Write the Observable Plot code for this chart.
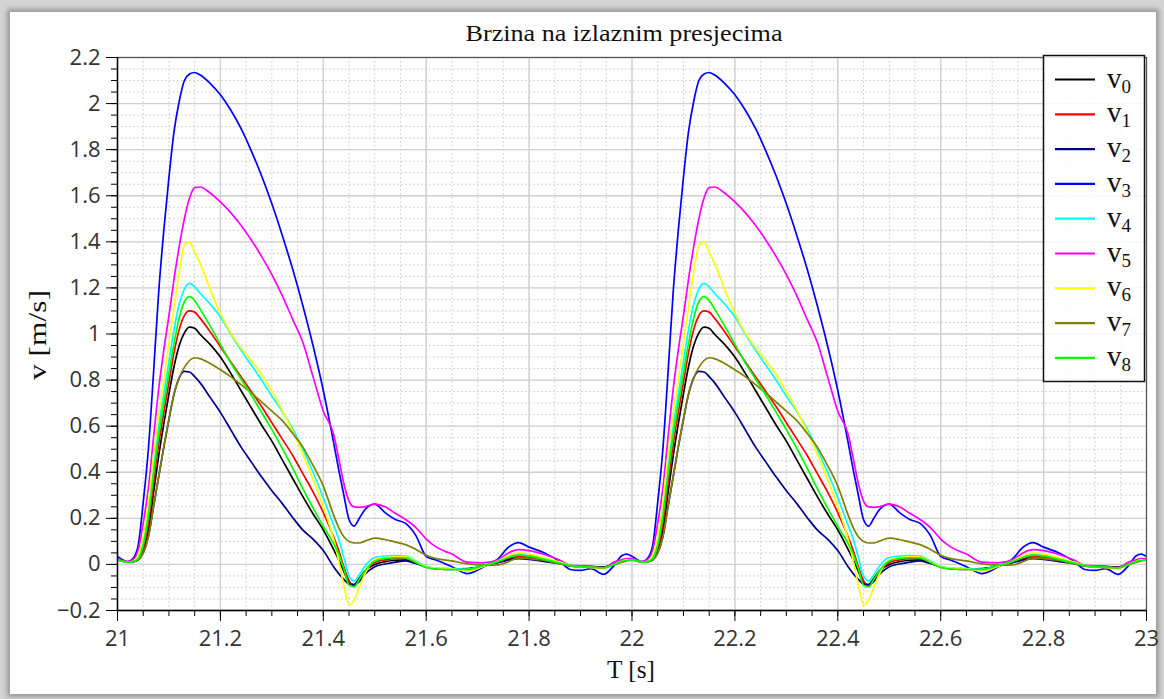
<!DOCTYPE html>
<html>
<head>
<meta charset="utf-8">
<script src="https://cdn.jsdelivr.net/npm/d3@7"></script>
<script src="https://cdn.jsdelivr.net/npm/@observablehq/plot@0.6"></script>
<style>
  html, body { margin: 0; padding: 0; width: 1164px; height: 699px; overflow: hidden; background: #d4d4d4; }
  #panel { position: absolute; left: 10px; top: 12px; width: 1146px; height: 682px; background: #fff;
           box-shadow: 0 0 5px 3px rgba(0,0,0,0.28); }
  #chart { position: absolute; left: 0; top: 0; }
  #overlay { position: absolute; left: 0; top: 0; }
</style>
</head>
<body>
<div id="panel"></div>
<div id="chart"></div>
<svg id="overlay" width="1164" height="699"></svg>
<script>
// ---- data (one pulse period; the signal repeats every 1 s) ----
const cycleStarts = [21, 22, 23];
const phase = [0, 0.02, 0.03, 0.04, 0.05, 0.06, 0.07, 0.08, 0.09, 0.10,
               0.11, 0.12, 0.13, 0.14, 0.15, 0.16, 0.18, 0.20, 0.22, 0.24,
               0.26, 0.28, 0.30, 0.32, 0.34, 0.36, 0.38, 0.40, 0.42, 0.43,
               0.44, 0.45, 0.46, 0.47, 0.48, 0.50, 0.52, 0.54, 0.56, 0.58,
               0.60, 0.62, 0.65, 0.68, 0.71, 0.74, 0.76, 0.78, 0.80, 0.83,
               0.86, 0.88, 0.90, 0.92, 0.945, 0.965, 0.98, 0.99];

const v0 = [0.02, 0.01, 0.012, 0.02, 0.06, 0.15, 0.31, 0.47, 0.61, 0.74,
            0.86, 0.95, 1.005, 1.03, 1.025, 1.0, 0.955, 0.9, 0.83, 0.755,
            0.68, 0.605, 0.535, 0.455, 0.375, 0.295, 0.22, 0.15, 0.065, 0.02,
            -0.03, -0.08, -0.088, -0.06, -0.03, 0.0, 0.012, 0.018, 0.02, 0.005,
            -0.01, -0.018, -0.022, -0.02, -0.008, 0.01, 0.022, 0.03, 0.025, 0.015,
            0.005, -0.005, -0.01, -0.01, -0.012, 0.0, 0.012, 0.018];
const v1 = [0.02, 0.01, 0.012, 0.02, 0.07, 0.18, 0.35, 0.52, 0.66, 0.79,
            0.92, 1.02, 1.08, 1.10, 1.095, 1.07, 1.01, 0.945, 0.88, 0.815,
            0.75, 0.685, 0.615, 0.545, 0.475, 0.395, 0.315, 0.225, 0.12, 0.06,
            -0.01, -0.07, -0.092, -0.07, -0.035, 0.008, 0.02, 0.025, 0.025, 0.006,
            -0.012, -0.019, -0.021, -0.02, -0.006, 0.012, 0.027, 0.036, 0.032, 0.02,
            0.005, -0.005, -0.01, -0.011, -0.013, 0.0, 0.012, 0.018];
const v2 = [0.02, 0.01, 0.012, 0.02, 0.05, 0.12, 0.25, 0.38, 0.51, 0.63,
            0.74, 0.81, 0.838, 0.835, 0.815, 0.79, 0.725, 0.66, 0.585, 0.51,
            0.445, 0.38, 0.32, 0.265, 0.205, 0.15, 0.11, 0.06, -0.01, -0.04,
            -0.065, -0.085, -0.088, -0.075, -0.045, -0.01, 0.002, 0.01, 0.015, 0.004,
            -0.01, -0.018, -0.02, -0.018, -0.008, 0.008, 0.018, 0.025, 0.022, 0.012,
            0.003, -0.006, -0.01, -0.01, -0.012, 0.0, 0.012, 0.018];
const v3 = [0.035, 0.012, 0.025, 0.08, 0.27, 0.50, 0.83, 1.18, 1.45, 1.68,
            1.88, 2.01, 2.10, 2.128, 2.135, 2.125, 2.088, 2.038, 1.972, 1.892,
            1.795, 1.687, 1.565, 1.43, 1.285, 1.125, 0.95, 0.755, 0.53, 0.41,
            0.30, 0.195, 0.166, 0.20, 0.235, 0.262, 0.225, 0.195, 0.178, 0.125,
            0.035, 0.018, -0.01, -0.04, -0.012, 0.025, 0.075, 0.095, 0.075, 0.05,
            0.012, -0.022, -0.026, -0.018, -0.043, -0.005, 0.038, 0.045];
const v4 = [0.02, 0.01, 0.012, 0.03, 0.10, 0.24, 0.43, 0.60, 0.74, 0.88,
            1.02, 1.13, 1.195, 1.22, 1.205, 1.178, 1.13, 1.075, 1.0, 0.93,
            0.865, 0.80, 0.73, 0.665, 0.59, 0.50, 0.40, 0.29, 0.17, 0.11,
            0.03, -0.05, -0.072, -0.045, -0.01, 0.03, 0.036, 0.038, 0.036, 0.015,
            -0.008, -0.016, -0.018, -0.02, -0.005, 0.015, 0.035, 0.045, 0.04, 0.025,
            0.008, -0.004, -0.01, -0.012, -0.015, 0.0, 0.015, 0.02];
const v5 = [0.025, 0.012, 0.02, 0.06, 0.18, 0.33, 0.55, 0.76, 0.93, 1.08,
            1.24, 1.38, 1.50, 1.59, 1.635, 1.638, 1.612, 1.573, 1.527, 1.472,
            1.408, 1.337, 1.258, 1.168, 1.066, 0.965, 0.815, 0.665, 0.565, 0.46,
            0.35, 0.275, 0.25, 0.248, 0.25, 0.262, 0.25, 0.222, 0.195, 0.16,
            0.11, 0.075, 0.045, 0.01, 0.007, 0.02, 0.05, 0.064, 0.06, 0.043,
            0.018, -0.004, -0.006, -0.008, -0.017, 0.01, 0.02, 0.025];
const v6 = [0.02, 0.01, 0.014, 0.04, 0.12, 0.27, 0.47, 0.65, 0.80, 0.96,
            1.12, 1.27, 1.385, 1.40, 1.355, 1.31, 1.195, 1.09, 1.005, 0.94,
            0.885, 0.825, 0.75, 0.67, 0.58, 0.48, 0.37, 0.25, 0.11, 0.015,
            -0.09, -0.175, -0.155, -0.10, -0.045, 0.02, 0.03, 0.033, 0.033, 0.012,
            -0.01, -0.016, -0.02, -0.028, -0.01, 0.015, 0.038, 0.05, 0.045, 0.028,
            0.01, -0.005, -0.012, -0.014, -0.017, 0.0, 0.014, 0.02];
const v7 = [0.02, 0.01, 0.012, 0.02, 0.05, 0.12, 0.25, 0.38, 0.51, 0.63,
            0.74, 0.81, 0.855, 0.885, 0.897, 0.893, 0.872, 0.845, 0.815, 0.78,
            0.745, 0.705, 0.665, 0.625, 0.57, 0.51, 0.43, 0.34, 0.215, 0.16,
            0.12, 0.1, 0.093, 0.093, 0.1, 0.114, 0.108, 0.097, 0.086, 0.065,
            0.04, 0.025, 0.015, 0.002, -0.003, -0.002, 0.012, 0.028, 0.025, 0.017,
            0.002, -0.006, -0.01, -0.012, -0.014, 0.0, 0.01, 0.015];
const v8 = [0.02, 0.01, 0.012, 0.025, 0.085, 0.21, 0.39, 0.56, 0.70, 0.83,
            0.96, 1.07, 1.14, 1.162, 1.145, 1.11, 1.035, 0.955, 0.875, 0.805,
            0.735, 0.66, 0.585, 0.505, 0.42, 0.33, 0.245, 0.165, 0.09, 0.045,
            -0.02, -0.09, -0.098, -0.065, -0.03, 0.015, 0.026, 0.029, 0.028, 0.008,
            -0.013, -0.02, -0.022, -0.022, -0.006, 0.013, 0.03, 0.04, 0.036, 0.022,
            0.006, -0.005, -0.01, -0.012, -0.015, 0.0, 0.013, 0.018];

const seriesNames = ["v0", "v1", "v2", "v3", "v4", "v5", "v6", "v7", "v8"];
const seriesValues = [v0, v1, v2, v3, v4, v5, v6, v7, v8];
const seriesColors = ["#000000", "#ff0000", "#00008b", "#0000ff", "#00ffff",
                      "#ff00ff", "#ffff00", "#808000", "#00ff00"];

const xTicks = [21, 21.2, 21.4, 21.6, 21.8, 22, 22.2, 22.4, 22.6, 22.8, 23];
const xTickLabels = ["21", "21.2", "21.4", "21.6", "21.8", "22", "22.2", "22.4", "22.6", "22.8", "23"];
const yTicks = [-0.2, 0, 0.2, 0.4, 0.6, 0.8, 1, 1.2, 1.4, 1.6, 1.8, 2, 2.2];
const yTickLabels = ["\u22120.2", "0", "0.2", "0.4", "0.6", "0.8", "1", "1.2", "1.4", "1.6", "1.8", "2", "2.2"];
const titleText = "Brzina na izlaznim presjecima";
const xLabel = "T [s]";
const yLabel = "v [m/s]";

// ---- build table ----
const rows = [];
seriesNames.forEach((name, k) => {
  cycleStarts.forEach(c => {
    phase.forEach((p, i) => rows.push({T: +(c + p).toFixed(4), v: seriesValues[k][i], name}));
  });
});
const data = rows.filter(d => d.T <= 23.03);

const xMinor = d3.range(0, 41).map(i => +(21 + i * 0.05).toFixed(3));
const yMinor = d3.range(0, 49).map(i => +(-0.2 + i * 0.05).toFixed(3));
const fmtX = d => xTickLabels[xTicks.indexOf(d)];
const fmtY = d => yTickLabels[yTicks.indexOf(d)];

const W = 1164, H = 699;
const plot = Plot.plot({
  width: W, height: H,
  marginLeft: 117, marginRight: 18, marginTop: 57, marginBottom: 89,
  style: {background: "transparent", fontFamily: "'Open Sans', sans-serif"},
  x: {domain: [21, 23], label: null},
  y: {domain: [-0.2, 2.2], label: null},
  color: {domain: seriesNames, range: seriesColors},
  marks: [
    Plot.gridX(xMinor, {stroke: "#c8c8c8", strokeOpacity: 1, strokeWidth: 1, strokeDasharray: "1.5,2.5"}),
    Plot.gridY(yMinor, {stroke: "#c8c8c8", strokeOpacity: 1, strokeWidth: 1, strokeDasharray: "1.5,2.5"}),
    Plot.gridX(xTicks, {stroke: "#d0d0d0", strokeOpacity: 1, strokeWidth: 1.4}),
    Plot.gridY(yTicks, {stroke: "#d0d0d0", strokeOpacity: 1, strokeWidth: 1.4}),
    Plot.line(data, {x: "T", y: "v", z: "name", stroke: "name", strokeWidth: 1.7,
                     curve: "monotone-x", clip: true}),
    Plot.frame({stroke: "#555", strokeWidth: 1.2}),
    Plot.ruleX([21], {stroke: "#000", strokeWidth: 1.4}),
    Plot.ruleY([-0.2], {stroke: "#000", strokeWidth: 1.4}),
    Plot.axisX(xMinor, {tickSize: 6, stroke: "#000", tickFormat: () => "", label: null}),
    Plot.axisY(yMinor, {tickSize: 6, stroke: "#000", tickFormat: () => "", label: null}),
    Plot.axisX(xTicks, {tickSize: 11, tickPadding: 9, stroke: "#000", fill: "#333",
                        fontSize: 22, tickFormat: fmtX, label: null}),
    Plot.axisY(yTicks, {tickSize: 11, tickPadding: 6, stroke: "#000", fill: "#333",
                        fontSize: 22, tickFormat: fmtY, label: null})
  ]
});
document.getElementById("chart").appendChild(plot);

// ---- title, axis labels, legend (real text) ----
const ov = d3.select("#overlay");
const serif = "'Liberation Serif', 'DejaVu Serif', serif";
ov.append("text").attr("x", 624).attr("y", 41).attr("text-anchor", "middle")
  .attr("font-family", serif).attr("font-size", 23).attr("fill", "#111")
  .attr("textLength", 317).attr("lengthAdjust", "spacingAndGlyphs").text(titleText);
ov.append("text").attr("x", 631).attr("y", 678).attr("text-anchor", "middle")
  .attr("font-family", serif).attr("font-size", 25).attr("fill", "#111")
  .attr("textLength", 48).attr("lengthAdjust", "spacingAndGlyphs").text(xLabel);
ov.append("text").attr("transform", "translate(46,335) rotate(-90)").attr("text-anchor", "middle")
  .attr("font-family", serif).attr("font-size", 25).attr("fill", "#111")
  .attr("textLength", 90).attr("lengthAdjust", "spacingAndGlyphs").text(yLabel);

const lg = ov.append("g");
lg.append("rect").attr("x", 1043.5).attr("y", 55.5).attr("width", 101).attr("height", 326)
  .attr("fill", "#fff").attr("fill-opacity", 0.85).attr("stroke", "#111").attr("stroke-width", 1.5);
seriesNames.forEach((name, k) => {
  const y = 79.5 + k * 34.8;
  lg.append("line").attr("x1", 1055).attr("x2", 1095).attr("y1", y).attr("y2", y)
    .attr("stroke", seriesColors[k]).attr("stroke-width", 2.2);
  const t = lg.append("text").attr("x", 1107).attr("y", y + 8)
    .attr("font-family", serif).attr("font-size", 29).attr("fill", "#111");
  t.append("tspan").text(name.slice(0, 1));
  t.append("tspan").attr("font-size", 19).attr("dy", 5).text(name.slice(1));
});
</script>
</body>
</html>
